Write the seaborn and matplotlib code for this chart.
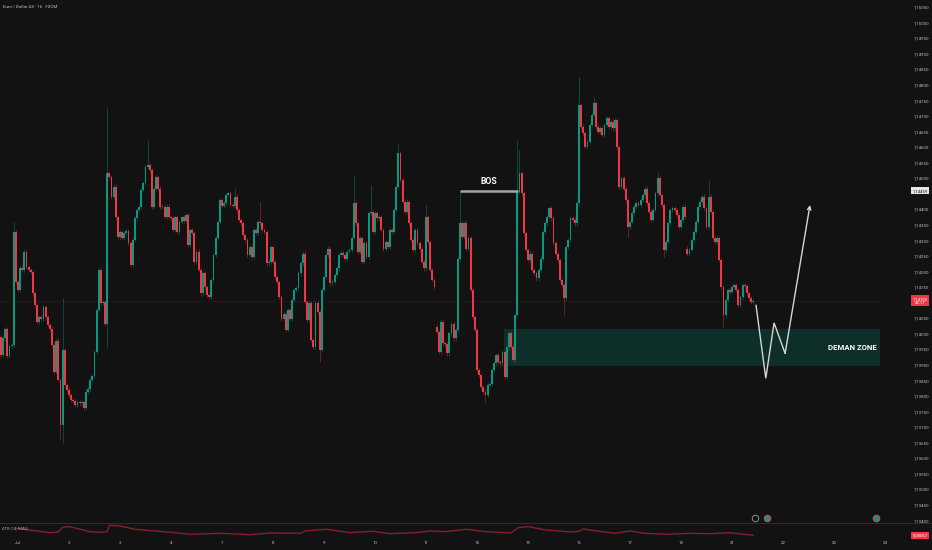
import numpy as np
import pandas as pd
import matplotlib
matplotlib.use("Agg")
import matplotlib.pyplot as plt
import matplotlib.transforms as mtransforms
from matplotlib.patches import Rectangle
from matplotlib import font_manager as fm
import seaborn as sns

# ---------------- data (EUR/USD 1h closes) ----------------
first_open = 1.13989
closes_week1 = [
    1.13930, 1.13984, 1.14013, 1.13927, 1.13959, 1.13963, 1.14327, 1.14166, 1.14139, 1.14212,
    1.14204, 1.14263, 1.14214, 1.14204, 1.14198, 1.14129, 1.14091, 1.14038, 1.14052, 1.14048,
    1.14084, 1.14054, 1.14027, 1.14016, 1.13963, 1.13877, 1.13977, 1.13850, 1.13705, 1.13947,
    1.13834, 1.13818, 1.13802, 1.13786, 1.13783, 1.13770, 1.13780, 1.13775, 1.13780, 1.13762,
    1.13813, 1.13820, 1.13850, 1.13864, 1.13941, 1.14075, 1.14204, 1.14097, 1.14100, 1.14032,
    1.14515, 1.14504, 1.14440, 1.14472, 1.14375, 1.14311, 1.14327, 1.14306, 1.14322, 1.14330,
    1.14290, 1.14220, 1.14300, 1.14370, 1.14397, 1.14408, 1.14461, 1.14483, 1.14536, 1.14542,
    1.14525, 1.14408, 1.14466, 1.14502, 1.14466, 1.14408, 1.14408, 1.14375, 1.14408, 1.14375,
    1.14370, 1.14332, 1.14375, 1.14327, 1.14359, 1.14375, 1.14362, 1.14381, 1.14284, 1.14332,
    1.14322, 1.14231,
]
closes_week2 = [
    1.14263, 1.14204, 1.14129, 1.14193, 1.14150, 1.14123, 1.14118, 1.14172, 1.14252, 1.14306,
    1.14359, 1.14429, 1.14410, 1.14418, 1.14445, 1.14450, 1.14413, 1.14410, 1.14440, 1.14397,
    1.14365, 1.14354, 1.14316, 1.14300, 1.14252, 1.14279, 1.14247, 1.14332, 1.14322, 1.14359,
    1.14354, 1.14332, 1.14327, 1.14225, 1.14231, 1.14279, 1.14231, 1.14182, 1.14166, 1.14118,
    1.14048, 1.14064, 1.14011, 1.14075, 1.14048, 1.14107, 1.14139, 1.14145, 1.14193, 1.14225,
    1.14257, 1.14102, 1.14043, 1.14097, 1.13979, 1.13957, 1.14097, 1.14070, 1.13947, 1.14139,
    1.14182, 1.14252, 1.14273, 1.14161, 1.14166, 1.14188, 1.14209, 1.14252, 1.14260, 1.14252,
    1.14241, 1.14263, 1.14268, 1.14306, 1.14418, 1.14354, 1.14263, 1.14306, 1.14231, 1.14290,
    1.14247, 1.14386, 1.14391, 1.14327, 1.14386, 1.14370, 1.14375, 1.14332, 1.14273, 1.14295,
    1.14279, 1.14332, 1.14327, 1.14397, 1.14472,
    1.14579, 1.14493, 1.14424, 1.14391, 1.14424, 1.14354, 1.14300, 1.14268, 1.14332, 1.14290,
    1.14273, 1.14231, 1.14209, 1.14375, 1.14295, 1.14204, 1.14172, 1.14150,
]
closes_week3 = [
    1.14005, 1.13941, 1.14038, 1.13968, 1.13965, 1.13936, 1.14000, 1.14032, 1.13984, 1.14011,
    1.14241, 1.14354, 1.14311, 1.14354, 1.14273, 1.14306, 1.14139, 1.14054, 1.14011, 1.13882,
    1.13866, 1.13829, 1.13813, 1.13802, 1.13834, 1.13839, 1.13882, 1.13904, 1.13930, 1.13909,
    1.13904, 1.13941, 1.13861, 1.13957, 1.14000, 1.13957, 1.13914, 1.14059,
    1.14456, 1.14515, 1.14450, 1.14322, 1.14268, 1.14236, 1.14257, 1.14204, 1.14193, 1.14177,
    1.14204, 1.14241, 1.14327, 1.14354, 1.14375, 1.14402, 1.14370, 1.14290, 1.14257, 1.14236,
    1.14172, 1.14156, 1.14113, 1.14279, 1.14300, 1.14370, 1.14365, 1.14354, 1.14418, 1.14734,
    1.14665, 1.14643, 1.14600, 1.14617,
    1.14670, 1.14702, 1.14740, 1.14665, 1.14649, 1.14659, 1.14638, 1.14670, 1.14692, 1.14665,
    1.14681, 1.14659, 1.14686, 1.14600, 1.14472, 1.14499, 1.14466, 1.14429, 1.14343, 1.14359,
    1.14386, 1.14408, 1.14418, 1.14413, 1.14429, 1.14445, 1.14466, 1.14418, 1.14391, 1.14365,
    1.14397, 1.14450, 1.14499, 1.14445, 1.14413, 1.14268, 1.14295, 1.14354, 1.14397, 1.14402,
    1.14397, 1.14381, 1.14343, 1.14365, 1.14408, 1.14375,
]
closes_week4 = [
    1.14257, 1.14268, 1.14300, 1.14327,
    1.14359, 1.14408, 1.14424, 1.14440, 1.14402, 1.14343, 1.14440, 1.14391, 1.14306, 1.14295,
    1.14306, 1.14236, 1.14150, 1.14059, 1.14107, 1.14139, 1.14134, 1.14150, 1.14156, 1.14139,
    1.14091, 1.14118, 1.14156, 1.14153, 1.14129, 1.14113, 1.14102, 1.14105,
]
# weekend gap opens (week start opens)
week_opens = [first_open, 1.14022, 1.14273]

# notable wicks (candle index -> price)
wick_highs = {6: 1.14359, 29: 1.14113, 50: 1.14729, 69: 1.14622, 110: 1.14467, 122: 1.14422,
              166: 1.14508, 174: 1.14476, 187: 1.14611, 200: 1.14413, 216: 1.14459,
              243: 1.14622, 244: 1.14590, 272: 1.14826, 279: 1.14761, 309: 1.14520, 333: 1.14493}
wick_lows = {28: 1.13662, 29: 1.13645, 50: 1.13952, 150: 1.13909, 228: 1.13775, 265: 1.14059,
             295: 1.14311, 312: 1.14247, 340: 1.14021}

# annotations
bos_level = 1.14459
bos_from, bos_to = 216, 243.5
zone_start = 236.5
zone_low, zone_high = 1.13895, 1.14014
proj_idx = [355.3, 359.9, 363.8, 369.0, 380.7]
proj_price = [1.14091, 1.13856, 1.14034, 1.13936, 1.14413]

# ATR (14, RMA)
atr_idx = [7, 23, 27, 29, 32, 42, 47, 50, 51, 56, 63, 70, 80, 89, 103, 117, 127, 141, 143, 153,
           160, 164, 175, 183, 195, 202, 209, 219, 228, 240, 243, 248, 256, 268, 272, 274, 280,
           289, 296, 303, 313, 324, 334, 343, 354]
atr_val = [0.00123, 0.00088, 0.00094, 0.00131, 0.00137, 0.00096, 0.00091, 0.00096, 0.00147, 0.00142,
           0.00115, 0.00105, 0.00091, 0.00075, 0.00083, 0.00072, 0.00086, 0.00083, 0.00102, 0.00115,
           0.00099, 0.00088, 0.00099, 0.00080, 0.00088, 0.00102, 0.00096, 0.00115, 0.00096, 0.00086,
           0.00126, 0.00137, 0.00110, 0.00094, 0.00099, 0.00118, 0.00102, 0.00083, 0.00102, 0.00083,
           0.00075, 0.00083, 0.00080, 0.00088, 0.00067]

# axis labels
day_labels = ["Jul", "2", "3", "4", "7", "8", "9", "10", "11", "14", "15", "16", "17", "18",
              "21", "22", "23", "24"]
first_day_index = 8
bars_per_day = 24
price_ticks = [1.13400, 1.13450, 1.13500, 1.13550, 1.13600, 1.13650, 1.13700, 1.13750, 1.13800,
               1.13850, 1.13900, 1.13950, 1.14000, 1.14050, 1.14150, 1.14200, 1.14250,
               1.14300, 1.14350, 1.14400, 1.14500, 1.14550, 1.14600, 1.14650, 1.14700,
               1.14750, 1.14800, 1.14850, 1.14900, 1.14950, 1.15000, 1.15050]
events_idx = [354.7, 360.5, 411.8]
events_kind = ["flash", "earn", "earn"]
events_price = 1.13407
title = "Euro / Dollar AS · 1h · FXCM"

# ---------------- build OHLC ----------------
closes, opens = [], []
prev = None
for wk, wopen in zip([closes_week1 + closes_week2, closes_week3, closes_week4], week_opens):
    for j, c in enumerate(wk):
        opens.append(wopen if j == 0 else prev)
        closes.append(c)
        prev = c
df = pd.DataFrame({"open": opens, "close": closes})
df["idx"] = np.arange(len(df))
df["top"] = df[["open", "close"]].max(axis=1)
df["bot"] = df[["open", "close"]].min(axis=1)
wick_pad = 0.00007
df["high"] = df["top"] + wick_pad
df["low"] = df["bot"] - wick_pad
for k, v in wick_highs.items():
    if k < len(df):
        df.loc[k, "high"] = v
for k, v in wick_lows.items():
    if k < len(df):
        df.loc[k, "low"] = v
df["up"] = df["close"] >= df["open"]

# ---------------- style ----------------
BG = "#121212"
GREEN = "#089981"
RED = "#f23645"
sns.set_theme(style="dark", rc={"axes.facecolor": BG, "figure.facecolor": BG})


def pick(fams):
    for f in fams:
        try:
            fm.findfont(fm.FontProperties(family=f), fallback_to_default=False)
            return f
        except Exception:
            pass
    return "DejaVu Sans"


narrow = pick(["Liberation Sans Narrow", "Roboto", "DejaVu Sans"])
small = pick(["Roboto", "DejaVu Sans"])
plt.rcParams["font.family"] = [small, "DejaVu Sans"]

W, H = 932, 550
fig = plt.figure(figsize=(W / 100, H / 100), dpi=100)
fig.patch.set_facecolor(BG)


def rect(x0, y0, x1, y1):
    return [x0 / W, 1 - y1 / H, (x1 - x0) / W, (y1 - y0) / H]


ax = fig.add_axes(rect(0, 0, 880, 522))
ax_atr = fig.add_axes(rect(0, 523, 932, 539))
for a in (ax, ax_atr):
    a.set_facecolor(BG)
    a.grid(False)
    for s in a.spines.values():
        s.set_visible(False)

px_per_bar = 2.125
ax.set_xlim(-0.47, -0.47 + 880 / px_per_bar)
ax.set_ylim(1.13394, 1.15072)
ax_atr.set_xlim(-0.47, -0.47 + 932 / px_per_bar)
ax_atr.set_ylim(0.000374, 0.001654)

# demand zone
ax.add_patch(Rectangle((zone_start, zone_low), ax.get_xlim()[1] - zone_start, zone_high - zone_low,
                       facecolor="#0d2e29", edgecolor="none", zorder=0))

# current price line
last = df["close"].iloc[-1]
ax.axhline(last, color=RED, alpha=0.35, lw=0.6, ls=(0, (1, 2)), zorder=0.5)

# wicks
wick_col = np.where(df["up"], GREEN, RED)
ax.vlines(df["idx"], df["low"], df["high"], colors=wick_col, alpha=0.45, lw=0.6, zorder=1)
# bodies
h = (df["top"] - df["bot"]).clip(lower=0.000015)
ax.bar(df["idx"], h, bottom=df["bot"], width=0.84, color=wick_col, linewidth=0, zorder=2)

# BOS
ax.plot([bos_from, bos_to], [bos_level, bos_level], color="#a6a6a6", lw=1.8, solid_capstyle="butt", zorder=3)
ax.text((bos_from + bos_to) / 2, bos_level + 0.00029, "BOS", color="white", fontsize=6.2,
        fontweight="bold", family=[narrow, "DejaVu Sans"], ha="center", va="center", zorder=4)
ax.text(ax.get_xlim()[1] - 1.5, (zone_low + zone_high) / 2, "DEMAN ZONE", color="white", fontsize=5.6,
        fontweight="bold", family=[narrow, "DejaVu Sans"], ha="right", va="center", zorder=4)

# projection zigzag
ax.plot(proj_idx[:-1], proj_price[:-1], color="#d6d6d6", lw=1.0, zorder=4, solid_joinstyle="miter")
ax.annotate("", xy=(proj_idx[-1], proj_price[-1]), xytext=(proj_idx[-2], proj_price[-2]),
            arrowprops=dict(arrowstyle="->", color="#d6d6d6", lw=1.0, mutation_scale=6,
                            shrinkA=0, shrinkB=0), zorder=4)

# events
for ex, kind in zip(events_idx, events_kind):
    if kind == "flash":
        ax.scatter([ex], [events_price], s=22, facecolor=BG, edgecolor="#9a9a9a", linewidth=0.6,
                   zorder=5, clip_on=False)
    else:
        ax.scatter([ex], [events_price], s=22, facecolor=GREEN, edgecolor=RED, linewidth=0.8,
                   zorder=5, clip_on=False)

# price scale
ax.yaxis.tick_right()
ax.set_yticks(price_ticks)
ax.set_yticklabels([f"{t:.5f}".replace(".", ",") for t in price_ticks])
ax.tick_params(axis="y", length=0, pad=24.0, labelsize=3.2, labelcolor="#bdbdbd")
ax.set_xticks([])

tr = mtransforms.blended_transform_factory(fig.transFigure, ax.transData)
ax.text(920 / W, last, f"{last:.5f}".replace(".", ",") + "\n48:17", transform=tr, fontsize=3.1,
        color="white", ha="center", va="center", linespacing=1.1,
        bbox=dict(boxstyle="square,pad=0.35", facecolor=RED, edgecolor="none"), clip_on=False)
ax.text(920 / W, bos_level, f"{bos_level:.5f}".replace(".", ","), transform=tr, fontsize=3.1,
        color="#131313", ha="center", va="center",
        bbox=dict(boxstyle="square,pad=0.35", facecolor="#e6e6e6", edgecolor="none"), clip_on=False)

# ATR panel
ax_atr.spines["top"].set_visible(True)
ax_atr.spines["top"].set_color("#2c2c2c")
ax_atr.spines["top"].set_linewidth(0.8)
sns.lineplot(x=atr_idx, y=atr_val, ax=ax_atr, color="#861f2a", lw=1.0)
ax_atr.set_ylabel("")
ax_atr.set_yticks([])
tr2 = mtransforms.blended_transform_factory(fig.transFigure, ax_atr.transData)
ax_atr.text(920 / W, atr_val[-1], f"{atr_val[-1]:.5f}".replace(".", ","), transform=tr2, fontsize=3.1,
            color="white", ha="center", va="center",
            bbox=dict(boxstyle="square,pad=0.35", facecolor=RED, edgecolor="none"), clip_on=False)
fig.text(2 / W, 1 - 528 / H, "ATR (14, RMA)", fontsize=2.9, color="#a8a8a8", ha="left", va="center")

day_pos = [first_day_index + bars_per_day * k for k in range(len(day_labels))]
ax_atr.set_xticks(day_pos)
ax_atr.set_xticklabels(day_labels)
ax_atr.tick_params(axis="x", length=0, pad=1.6, labelsize=3.2, labelcolor="#bdbdbd")

fig.text(3 / W, 1 - 7 / H, title, fontsize=3.2, color="#c8c8c8", ha="left", va="center")

fig.savefig("out.png", dpi=100, facecolor=BG)
